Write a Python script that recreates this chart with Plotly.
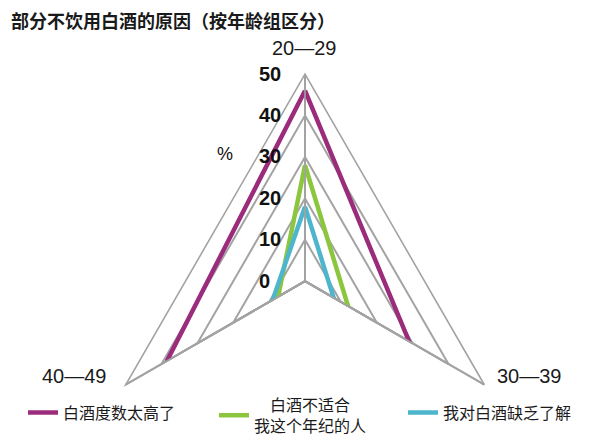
import plotly.graph_objects as go

# ---- data ----
age_groups = ["20—29", "30—39", "40—49"]
series_names = ["白酒度数太高了", "\u3000白酒不适合<br>我这个年纪的人", "我对白酒缺乏了解"]
too_strong = [46, 29, 38.5]
not_for_my_age = [28, 12, 7.5]
lack_knowledge = [18, 8, 9]
radial_ticks = [0, 10, 20, 30, 40, 50]
radial_ticktext = ["0\u00a0\u00a0", "10", "20", "30", "40", "50"]

colors = ["#9B2C7C", "#8CC63E", "#4DB6CC"]
GRID = "#A3A3A3"
W, H = 592, 435  # the page body has an 8px margin


def px(x):
    return x / W


def py(y):
    return 1 - y / H


fig = go.Figure()

# bottom edges of the polygon grid (the sector leaves them out)
for lv in radial_ticks[1:]:
    fig.add_trace(go.Scatterpolar(
        r=[lv, lv], theta=[age_groups[1], age_groups[2]], mode="lines",
        line=dict(color=GRID, width=1.6), showlegend=False, hoverinfo="skip",
        cliponaxis=False))

legend_ids = ["legend", "legend2", "legend3"]
for name, vals, col, lg in zip(series_names, [too_strong, not_for_my_age, lack_knowledge], colors, legend_ids):
    fig.add_trace(go.Scatterpolar(
        r=vals + [vals[0]], theta=age_groups + [age_groups[0]], mode="lines",
        name=name, line=dict(color=col, width=4.5), cliponaxis=False, legend=lg))

leg_common = dict(orientation="h", xanchor="left", yanchor="middle", valign="middle",
                  font=dict(size=16, family="Noto Sans CJK SC", color="#1a1a1a"),
                  itemwidth=30, bgcolor="rgba(0,0,0,0)")

label_pos = {"20—29": (296.5, 41.5), "30—39": (521.5, 384), "40—49": (66.5, 384)}
annotations = [
    dict(text="<b>部分不饮用白酒的原因（按年龄组区分）</b>", x=px(1), y=py(-3),
         xref="paper", yref="paper", xanchor="left", yanchor="top", showarrow=False,
         font=dict(size=18, family="Noto Sans CJK SC", color="#1a1a1a")),
    dict(text="%", x=px(216.5), y=py(152), xref="paper", yref="paper",
         xanchor="center", yanchor="middle",
         showarrow=False, font=dict(size=18, family="Liberation Sans", color="#111")),
]
for g in age_groups:
    lx, ly = label_pos[g]
    annotations.append(dict(text=g, x=px(lx), y=py(ly), xref="paper", yref="paper",
                            xanchor="center", yanchor="middle", showarrow=False,
                            font=dict(size=20, family="Liberation Sans", color="#1a1a1a")))

fig.update_layout(
    width=W, height=H,
    margin=dict(l=0, r=0, t=0, b=0),
    paper_bgcolor="white",
    font=dict(family="Liberation Sans, Noto Sans CJK SC", color="#1a1a1a"),
    polar=dict(
        sector=[-30, 210],
        gridshape="linear",
        bgcolor="rgba(0,0,0,0)",
        domain=dict(x=[px(76), px(518)], y=[py(393), py(69)]),
        angularaxis=dict(
            type="category", categoryorder="array", categoryarray=age_groups,
            rotation=90, direction="clockwise",
            showline=True, linecolor=GRID, linewidth=1.6,
            showgrid=True, gridcolor=GRID, gridwidth=1.6,
            ticks="", showticklabels=False),
        radialaxis=dict(
            range=[0, 50], tickvals=radial_ticks, ticktext=radial_ticktext,
            angle=90, side="counterclockwise",
            showline=True, linecolor=GRID, linewidth=1.6,
            showgrid=True, gridcolor=GRID, gridwidth=1.6,
            ticks="outside", ticklen=16, tickcolor="rgba(0,0,0,0)", tickangle=90,
            tickfont=dict(size=20, color="#111", family="Liberation Sans", weight="bold")),
    ),
    legend=dict(x=px(15), y=py(422), **leg_common),
    legend2=dict(x=px(206), y=py(425), **leg_common),
    legend3=dict(x=px(395), y=py(422), **leg_common),
    annotations=annotations,
)

fig.write_html("out.html")
